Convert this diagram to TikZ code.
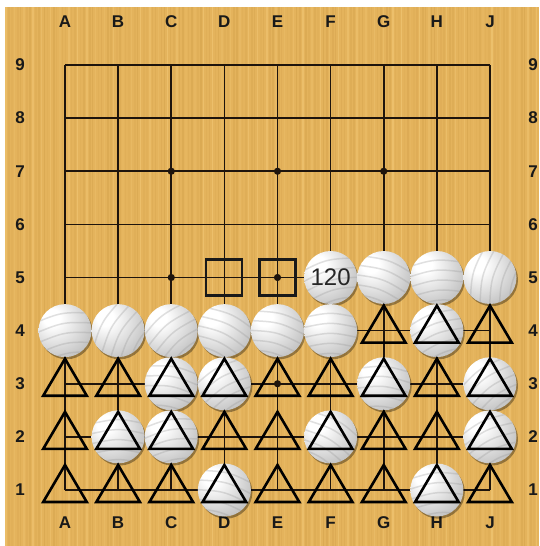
\documentclass[tikz,border=0pt]{standalone}
\usepackage{fontspec}
\setmainfont{Liberation Sans}
\usetikzlibrary{calc}
\definecolor{wood}{RGB}{228,179,92}
\definecolor{woodlight}{RGB}{242,200,118}
\definecolor{wooddark}{RGB}{206,156,70}
\definecolor{gridcol}{RGB}{30,20,12}
\pgfdeclareradialshading{gostone}{\pgfpoint{-14bp}{14bp}}{%
  color(0bp)=(white); color(8bp)=(white); color(24bp)=(black!14!white);
  color(40bp)=(black!28!white); color(56bp)=(black!45!white); color(72bp)=(black!58!white)}
\tikzset{
  gridline/.style={draw=gridcol, line width=1.7pt},
  hoshi/.style={fill=gridcol},
  lab/.style={font=\bfseries\fontsize{17}{17}\selectfont, text=black!90, inner sep=0pt},
  stonenode/.style={circle, minimum size=53pt, inner sep=0pt, shading=gostone},
  stripe/.style={draw=black!40, opacity=0.3, line width=1.5pt},
  trimark/.style={draw=black, line width=2.6pt, line join=miter},
  sqmark/.style={draw=black!90, line width=2.2pt},
}
\newcommand\gostone[2]{%
  \fill[black, opacity=0.35] ($(#1)+(1.5,2.2)$) circle (26.5);
  \node[stonenode] (st#1) at (#1) {};
  \begin{scope}
    \clip (#1) circle (26.5);
    \begin{scope}[shift={(#1)}, rotate=#2]
      \foreach \k in {-22,-12,...,28} {\draw[stripe] (-32,\k) .. controls (0,\k-7) .. (32,\k);}
    \end{scope}
  \end{scope}
}
\newcommand\trimk[1]{%
  \draw[trimark] ($(#1)+(0,-25)$) -- ($(#1)+(21.8,12)$) -- ($(#1)+(-21.8,12)$) -- cycle;}
\begin{document}
\begin{tikzpicture}[x=1pt,y=-1pt]
\useasboundingbox (0,0) rectangle (539,546);
\fill[white] (0,0) rectangle (539,546);
\fill[wood] (5,7) rectangle (539,546);
\pgfmathsetseed{11}
\foreach \i in {0,...,177} {
  \pgfmathsetmacro\xx{5+3*\i}
  \pgfmathsetmacro\op{0.15+0.5*rnd}
  \pgfmathsetmacro\w{0.8+1.5*rnd}
  \pgfmathtruncatemacro\pick{mod(\i*7+3,3)}
  \ifnum\pick=0
    \fill[woodlight, opacity=\op] (\xx,7) rectangle (\xx+\w,546);
  \else
    \fill[wooddark, opacity=\op*0.6] (\xx,7) rectangle (\xx+\w,546);
  \fi
}
% grid coordinates
\foreach \c [count=\ci from 0] in {A,B,C,D,E,F,G,H,J} {
  \foreach \r in {1,...,9} {
    \coordinate (\c\r) at ({65+53.125*\ci},{65+53.125*(9-\r)});
  }
}
% grid lines
\foreach \r in {1,...,9} {\draw[gridline] (A\r) -- (J\r);}
\foreach \c in {A,B,C,D,E,F,G,H,J} {\draw[gridline] (\c1) -- (\c9);}
\foreach \p in {C3,E3,G3,C5,E5,G5,C7,E7,G7} {\fill[hoshi] (\p) circle (3.6);}
% labels
\foreach \c in {A,B,C,D,E,F,G,H,J} {
  \node[lab] (top\c) at ($(\c9)+(0,-43)$) {\c};
  \node[lab] (bot\c) at ($(\c1)+(0,33)$) {\c};
}
\foreach \r in {1,...,9} {
  \node[lab] (left\r) at ($(A\r)+(-45,0)$) {\r};
  \node[lab] (right\r) at ($(J\r)+(43,0)$) {\r};
}
% squares
\draw[sqmark] ($(D5)+(-18,-18)$) rectangle ($(D5)+(18,18)$);
\draw[sqmark] ($(E5)+(-18,-18)$) rectangle ($(E5)+(18,18)$);
% stones
\gostone{F5}{15}
\gostone{G5}{-20}
\gostone{H5}{5}
\gostone{J5}{75}
\gostone{A4}{10}
\gostone{B4}{60}
\gostone{C4}{40}
\gostone{D4}{-25}
\gostone{E4}{-15}
\gostone{F4}{0}
\gostone{H4}{20}
\gostone{C3}{-10}
\gostone{D3}{30}
\gostone{G3}{-5}
\gostone{J3}{35}
\gostone{B2}{0}
\gostone{C2}{10}
\gostone{F2}{-30}
\gostone{J2}{25}
\gostone{D1}{-15}
\gostone{H1}{5}
\node[font=\fontsize{24}{24}\selectfont, text=black!85, inner sep=0pt] (move120) at (F5) {120};
% triangles
\foreach \p in {G4,H4,J4} {\trimk{\p}}
\foreach \c in {A,B,C,D,E,F,G,H,J} {
  \trimk{\c3}
  \trimk{\c2}
  \trimk{\c1}
}
\end{tikzpicture}
\end{document}
